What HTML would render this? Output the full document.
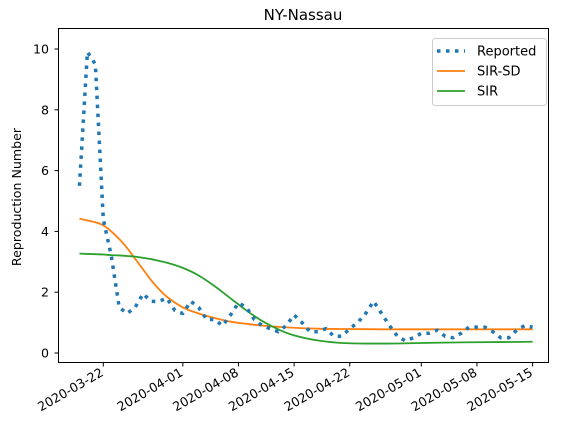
<!DOCTYPE html>
<html><head><meta charset="utf-8"><style>
body{margin:0;background:#fff;}
svg text{font-family:"DejaVu Sans","Liberation Sans",sans-serif;fill:#000;}
</style></head><body>
<svg id="chart" width="562" height="430" viewBox="0 0 562 430" xmlns="http://www.w3.org/2000/svg">
<text x="303" y="20" font-size="15" text-anchor="middle">NY-Nassau</text>
<text transform="translate(21,197) rotate(-90)" font-size="12.6" text-anchor="middle">Reproduction Number</text>
<g id="grid"></g>
<g id="marks"></g>
<rect x="58.5" y="28.5" width="490" height="334" fill="none" stroke="#000" stroke-width="1"/>
<g>
<rect x="432.5" y="38.5" width="114" height="67" rx="3" fill="#fff" fill-opacity="0.8" stroke="#ccc"/>
<line x1="437" y1="51" x2="465" y2="51" stroke="#1f77b4" stroke-width="3.5" stroke-dasharray="3.5,5.5"/>
<text x="477" y="55.5" font-size="13">Reported</text>
<line x1="437" y1="71" x2="465" y2="71" stroke="#ff7f0e" stroke-width="1.8"/>
<text x="477" y="75.5" font-size="13">SIR-SD</text>
<line x1="437" y1="91" x2="465" y2="91" stroke="#2ca02c" stroke-width="1.8"/>
<text x="477" y="95.5" font-size="13">SIR</text>
</g>
</svg>
<script>
// day offsets relative to 2020-03-22
const reportedDays = [-3,-2,-1,0,1,2,3,4,5,6,7,8,9,10,11,12,13,14,15,16,17,18,19,20,21,22,23,24,25,26,27,28,29,30,31,32,33,34,35,36,37,38,39,40,41,42,43,44,45,46,47,48,49,50,51,52,53,54];
const reported = [5.5,9.9,9.5,4.4,3.2,1.5,1.3,1.5,1.95,1.7,1.7,1.8,1.4,1.3,1.7,1.5,1.1,1.1,0.9,1.25,1.65,1.5,1.1,0.9,0.8,0.7,0.9,1.25,1.0,0.7,0.7,0.8,0.55,0.55,0.8,1.0,1.3,1.7,1.3,0.9,0.55,0.4,0.5,0.65,0.65,0.75,0.55,0.5,0.65,0.85,0.85,0.85,0.7,0.5,0.5,0.75,0.9,0.85];
const modelDays = [-3,-1,0,1,2,3,4,5,6,7,8,10,12,14,16,18,20,22,24,27,30,35,40,45,50,54];
const sirsd = [4.42,4.3,4.2,4.0,3.75,3.45,3.1,2.75,2.4,2.1,1.85,1.5,1.3,1.15,1.03,0.96,0.9,0.86,0.83,0.8,0.79,0.78,0.78,0.78,0.78,0.78];
const sir = [3.27,3.25,3.24,3.22,3.21,3.19,3.17,3.13,3.09,3.03,2.97,2.8,2.55,2.2,1.8,1.4,1.05,0.78,0.58,0.41,0.33,0.31,0.33,0.35,0.36,0.37];
const yTicks = [0,2,4,6,8,10];
const xTickDays = [0,10,17,24,31,40,47,54];
const xTickLabels = ["2020-03-22","2020-04-01","2020-04-08","2020-04-15","2020-04-22","2020-05-01","2020-05-08","2020-05-15"];

const NS="http://www.w3.org/2000/svg";
const xs=d=>103.3+d*7.95;
const ys=v=>353-v*30.4;
const grid=document.getElementById('grid');
const marks=document.getElementById('marks');
function mk(t,a,p){const e=document.createElementNS(NS,t);for(const k in a)e.setAttribute(k,a[k]);p.appendChild(e);return e;}
yTicks.forEach(v=>{
  const y=ys(v);
  const l=mk('line',{x1:54.5,x2:58.5,y1:y,y2:y,stroke:'#000'},grid);
  
  
  const t=mk('text',{x:49,y:y+4.5,'font-size':12.6,'text-anchor':'end'},grid);
  t.textContent=v;
  
  
});
xTickDays.forEach((d,i)=>{
  const x=xs(d);
  const l=mk('line',{x1:x,x2:x,y1:362.5,y2:366.5,stroke:'#000'},grid);
  
  
  const t=mk('text',{transform:`translate(${x+1},${375}) rotate(-30)`,'font-size':12.6,'text-anchor':'end'},grid);
  t.textContent=xTickLabels[i];
  
  
});
function smooth(pts){
  let d=`M${pts[0][0]},${pts[0][1]}`;
  for(let i=0;i<pts.length-1;i++){
    const p0=pts[i-1]||pts[i],p1=pts[i],p2=pts[i+1],p3=pts[i+2]||p2;
    const c1=[p1[0]+(p2[0]-p0[0])/6,p1[1]+(p2[1]-p0[1])/6];
    const c2=[p2[0]-(p3[0]-p1[0])/6,p2[1]-(p3[1]-p1[1])/6];
    d+=` C${c1[0]},${c1[1]} ${c2[0]},${c2[1]} ${p2[0]},${p2[1]}`;
  }
  return d;
}
const sd=mk('path',{d:smooth(modelDays.map((d,i)=>[xs(d),ys(sirsd[i])])),fill:'none',stroke:'#ff7f0e','stroke-width':1.8},marks);


const s=mk('path',{d:smooth(modelDays.map((d,i)=>[xs(d),ys(sir[i])])),fill:'none',stroke:'#2ca02c','stroke-width':1.8},marks);


const r=mk('polyline',{points:reportedDays.map((d,i)=>xs(d)+','+ys(reported[i])).join(' '),fill:'none',stroke:'#1f77b4','stroke-width':3.5,'stroke-dasharray':'3.5,5.5','stroke-linejoin':'round'},marks);


</script>
</body></html>
